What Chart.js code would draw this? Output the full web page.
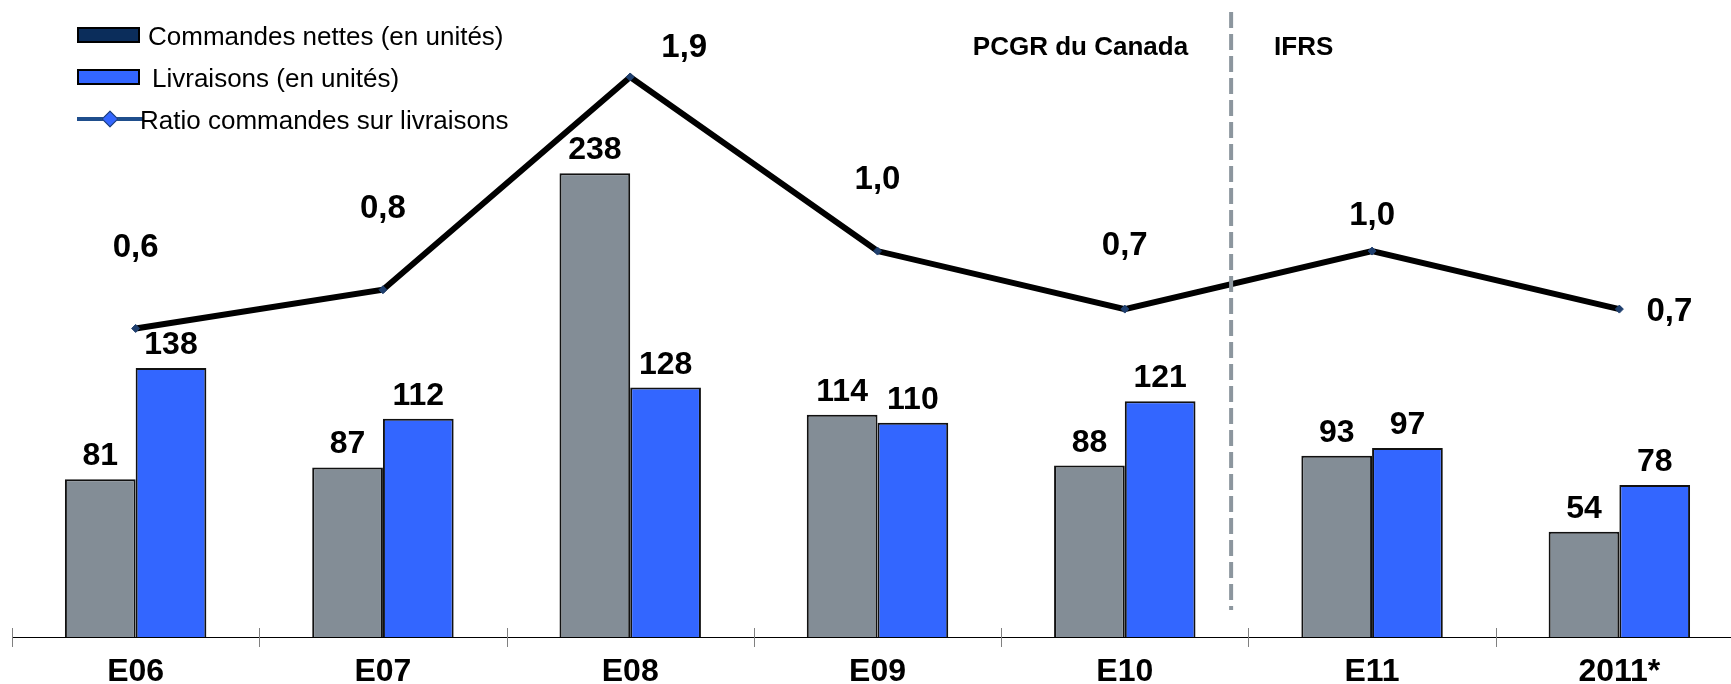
<!DOCTYPE html>
<html><head><meta charset="utf-8">
<script src="https://cdn.jsdelivr.net/npm/chart.js@4.4.1/dist/chart.umd.min.js"></script>
<style>
html,body{margin:0;padding:0;width:1731px;height:684px;overflow:hidden;background:#fff;}
#wrap{position:absolute;left:0;top:0;width:1760px;height:684px;}
.lg{position:absolute;font-family:"Liberation Sans",Arial,sans-serif;font-size:26px;line-height:30px;color:#000;white-space:nowrap;}
.sw{position:absolute;box-sizing:border-box;border:2px solid #000;width:63px;height:16px;}
</style></head><body>
<div id="wrap"><canvas id="c" width="1760" height="684"></canvas></div>
<div class="sw" style="left:77px;top:27px;background:#0B2D5B"></div>
<div class="lg" style="left:148px;top:21px">Commandes nettes (en unités)</div>
<div class="sw" style="left:77px;top:69px;background:#3366FF"></div>
<div class="lg" style="left:152px;top:63px">Livraisons (en unités)</div>
<div style="position:absolute;left:77px;top:117px;width:66px;height:4px;background:#1F4E8C"></div>
<div style="position:absolute;left:104px;top:113px;width:12px;height:12px;box-sizing:border-box;background:#3366FF;border:1.5px solid #1F3F6E;transform:rotate(45deg)"></div>
<div class="lg" style="left:140px;top:105px">Ratio commandes sur livraisons</div>
<script>
const categories = ['E06','E07','E08','E09','E10','E11','2011*'];
const netOrders = [81, 87, 238, 114, 88, 93, 54];
const deliveries = [138, 112, 128, 110, 121, 97, 78];
const ratio = [0.6, 0.8, 1.9, 1.0, 0.7, 1.0, 0.7];
const periodLabels = ['PCGR du Canada', 'IFRS'];

// label placement (layout only)
const ratioLabelShift = [[0,-81],[0,-81],[54,-29],[0,-71],[0,-63],[0,-35],[50,3]];
const dividerAt = 4.43;
const FONT = '"Liberation Sans", Arial, sans-serif';

const decor = {
  id: 'decor',
  afterDatasetsDraw(chart) {
    const ctx = chart.ctx, xs = chart.scales.x, ca = chart.chartArea;
    ctx.save();
    ctx.strokeStyle = '#808080'; ctx.lineWidth = 1;
    for (let i = 0; i <= categories.length; i++) {
      const x = Math.round(xs.getPixelForValue(i - 0.5)) + 0.5;
      ctx.beginPath(); ctx.moveTo(x, ca.bottom - 9); ctx.lineTo(x, ca.bottom + 10); ctx.stroke();
    }
    const dx = xs.getPixelForValue(dividerAt);
    ctx.strokeStyle = '#8C969E'; ctx.lineWidth = 4; ctx.setLineDash([16, 6]);
    ctx.beginPath(); ctx.moveTo(dx, 12); ctx.lineTo(dx, 610); ctx.stroke();
    ctx.setLineDash([]);
    ctx.fillStyle = '#000'; ctx.font = 'bold 26px ' + FONT; ctx.textBaseline = 'middle';
    ctx.textAlign = 'right'; ctx.fillText(periodLabels[0], dx - 43, 48);
    ctx.textAlign = 'left'; ctx.fillText(periodLabels[1], dx + 43, 48);
    ctx.font = 'bold 32px ' + FONT; ctx.textAlign = 'center'; ctx.textBaseline = 'alphabetic';
    [0, 1].forEach(di => {
      chart.getDatasetMeta(di).data.forEach((el, i) => {
        ctx.fillText(String(chart.data.datasets[di].data[i]), el.x, el.y - 14);
      });
    });
    ctx.font = 'bold 33px ' + FONT;
    ctx.textBaseline = 'middle';
    chart.getDatasetMeta(2).data.forEach((el, i) => {
      const s = ratioLabelShift[i];
      ctx.fillText(ratio[i].toFixed(1).replace('.', ','), el.x + s[0], el.y + s[1]);
    });
    ctx.restore();
  }
};

new Chart(document.getElementById('c'), {
  data: {
    labels: categories,
    datasets: [
      { type: 'bar', label: 'Commandes nettes (en unités)', data: netOrders, yAxisID: 'y',
        backgroundColor: '#838D96', borderColor: '#111', borderWidth: 2,
        categoryPercentage: 0.572, barPercentage: 1, order: 2 },
      { type: 'bar', label: 'Livraisons (en unités)', data: deliveries, yAxisID: 'y',
        backgroundColor: '#3366FF', borderColor: '#111', borderWidth: 2,
        categoryPercentage: 0.572, barPercentage: 1, order: 2 },
      { type: 'line', label: 'Ratio commandes sur livraisons', data: ratio, yAxisID: 'y1',
        borderColor: '#000', borderWidth: 6, tension: 0,
        pointStyle: 'rectRot', pointRadius: 4, pointBackgroundColor: '#1F3F6E',
        pointBorderColor: '#1F3F6E', pointBorderWidth: 1, order: 0 }
    ]
  },
  options: {
    responsive: false,
    animation: false,
    layout: { padding: { left: 12, right: 17, top: 0, bottom: 0 } },
    plugins: { legend: { display: false }, tooltip: { enabled: false } },
    scales: {
      x: {
        offset: true,
        grid: { display: false, drawTicks: false },
        border: { display: true, color: '#000', width: 1 },
        ticks: { color: '#000', font: { family: FONT, size: 32, weight: 'bold' }, padding: 16, maxRotation: 0, autoSkip: false },
        afterFit(s) { s.height = 47; }
      },
      y: { display: false, min: 0, max: 324.3 },
      y1: { display: false, position: 'right', min: -0.995, max: 2.272 }
    }
  },
  plugins: [decor]
});
</script>
</body></html>
